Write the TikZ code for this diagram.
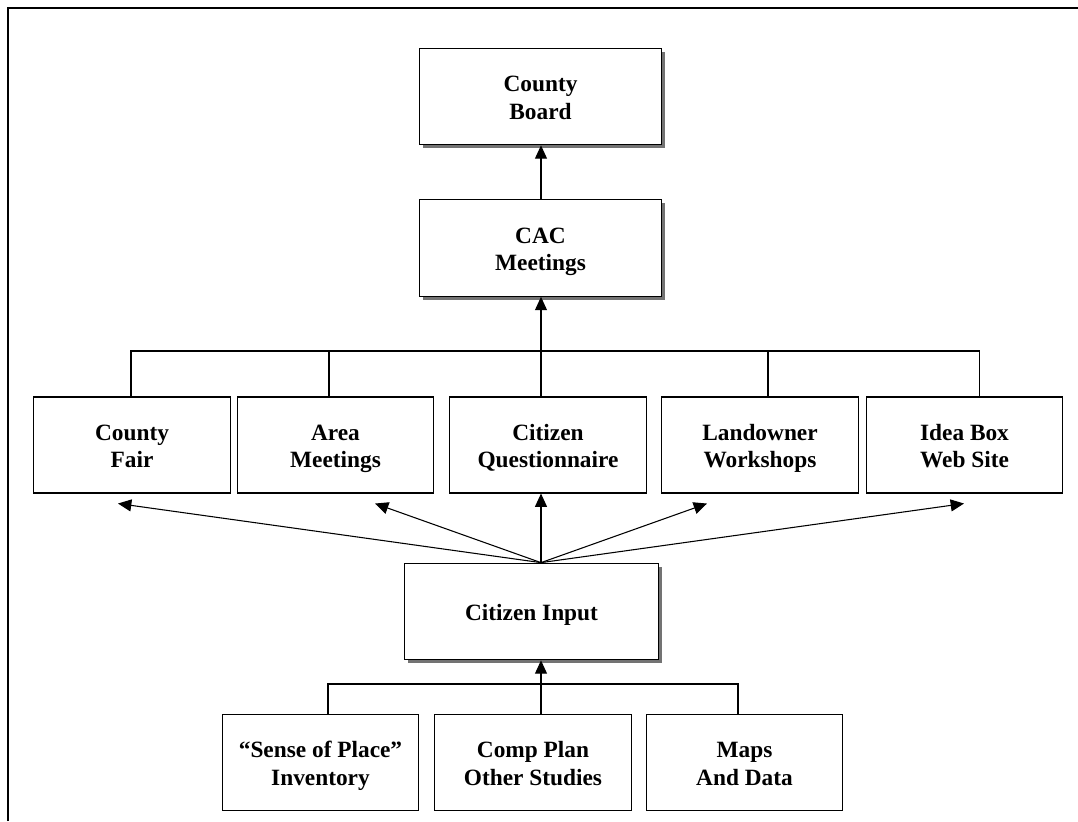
\documentclass[tikz,border=0pt]{standalone}
\usepackage{fontspec}
\setmainfont{Liberation Serif}
\usetikzlibrary{arrows.meta, positioning, shadows}

\begin{document}
\begin{tikzpicture}[
    x=0.75pt, y=-0.75pt,
    every node/.style={font=\fontsize{17.5}{20.5}\selectfont\bfseries},
    level/.style={rectangle, draw, fill=white, line width=0.8pt, minimum width=182pt, minimum height=72.5pt, align=center, inner sep=0pt, text height=38pt, text depth=4pt},
    source/.style={rectangle, draw, fill=white, line width=0.8pt, minimum width=147.5pt, minimum height=72pt, align=center, inner sep=0pt, text height=38pt, text depth=4pt},
    shade/.style={drop shadow={shadow xshift=2.6pt, shadow yshift=-2.6pt, fill=black!55, opacity=1}},
    arrow/.style={-{Triangle[length=10pt, width=9pt]}, line width=0.8pt},
    link/.style={line width=0.8pt}
]
\useasboundingbox (0,0) rectangle (1078,821);

% Frame
\draw[line width=1.6pt] (8,821) -- (8,8) -- (1078,8);

% ============ Top levels ============
\node[level, shade] (board) at (540.5,96.5) {County\\Board};
\node[level, shade] (cac) at (540.5,248) {CAC\\Meetings};

% ============ Input channels ============
\node[source] (fair) at (132,445) {County\\Fair};
\node[source] (area) at (335.5,445) {Area\\Meetings};
\node[source] (quest) at (548,445) {Citizen\\Questionnaire};
\node[source] (land) at (760,445) {Landowner\\Workshops};
\node[source] (idea) at (964.5,445) {Idea Box\\Web Site};

% ============ Citizen input ============
\node[level, shade, minimum width=191pt, text height=16.8pt] (input) at (531.5,611.5) {Citizen Input};

% ============ Sources ============
\node[source, minimum height=72.5pt] (sense) at (320.5,762.5) {``Sense of Place''\\Inventory};
\node[source, minimum height=72.5pt] (comp) at (533,762.5) {Comp Plan\\Other Studies};
\node[source, minimum height=72.5pt] (maps) at (744.5,762.5) {Maps\\And Data};

% Spine coordinates
\coordinate (upper) at (541,351);
\coordinate (lower) at (541,684);

% Arrows up to the board
\draw[arrow] (cac.north -| upper) -- (board.south -| upper);
\draw[arrow] (quest.north -| upper) -- (cac.south -| upper);

% Upper bus
\draw[link] ([xshift=-0.75pt]fair.north) |- (upper);
\draw[link] ([xshift=11.5pt]idea.north) |- (upper);
\draw[link] ([xshift=-4.9pt]area.north) -- ([xshift=-4.9pt]area.north |- upper);
\draw[link] ([xshift=6pt]land.north) -- ([xshift=6pt]land.north |- upper);

% Fan out from citizen input
\coordinate (hub) at (input.north -| upper);
\draw[arrow] (hub) -- ([shift={(-14,10)}]fair.south);
\draw[arrow] (hub) -- ([shift={(39.5,10)}]area.south);
\draw[arrow] (hub) -- (quest.south -| upper);
\draw[arrow] (hub) -- ([shift={(-53,10)}]land.south);
\draw[arrow] (hub) -- ([shift={(-0.5,10)}]idea.south);

% Lower bus
\draw[arrow] (comp.north -| lower) -- (input.south -| lower);
\draw[link] ([xshift=5.6pt]sense.north) |- (lower);
\draw[link] ([xshift=-4.9pt]maps.north) |- (lower);

\end{tikzpicture}
\end{document}
